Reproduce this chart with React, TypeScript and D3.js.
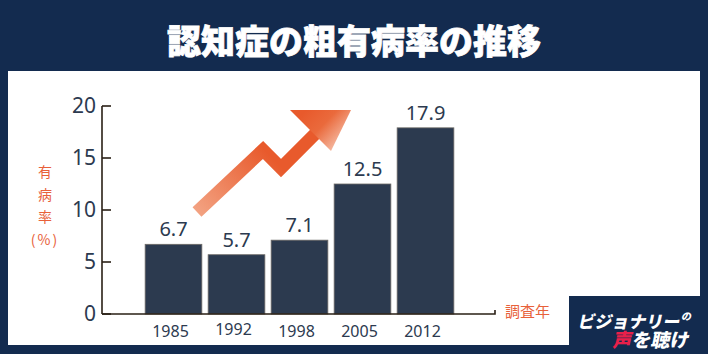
import { useMemo } from 'react';
import * as d3 from 'd3';

const W = 708;
const H = 354;

const years = ['1985', '1992', '1998', '2005', '2012'];
const rates = [6.7, 5.7, 7.1, 12.5, 17.9];
const yTicks = [0, 5, 10, 15, 20];
const yTitleChars = ['有', '病', '率', '(%)'];

const NAVY = '#132b4f';
const BAR = '#2c3a4f';
const TEXT = '#2c3a4f';
const ORANGE = '#e8613a';
const AXIS = '#2a2016';
const JP = '"Noto Sans CJK JP", "Noto Sans", sans-serif';
const NUM = '"Noto Sans", "Liberation Sans", sans-serif';

const PLOT = { left: 102, right: 495, top: 106, bottom: 314 };

export default function App() {
  const x = useMemo(
    () => d3.scaleBand<string>().domain(years).range([142, 457]).paddingInner(0.1).paddingOuter(0.05),
    []
  );
  const y = useMemo(() => d3.scaleLinear().domain([0, 20]).range([PLOT.bottom, PLOT.top]), []);

  // decorative rising arrow
  const shaft = d3.line()([
    [197, 212],
    [263, 150],
    [281, 168],
    [318, 131],
  ]) as string;
  const head = d3.line()([
    [290, 110],
    [351, 110],
    [331, 151],
  ]) + 'Z';

  return (
    <svg width={W} height={H} style={{ position: 'fixed', left: 0, top: 0, display: 'block' }}>
      <defs>
        <linearGradient id="shaftGrad" gradientUnits="userSpaceOnUse" x1={195} y1={215} x2={265} y2={150}>
          <stop offset="0" stopColor="#f3a585" />
          <stop offset="1" stopColor="#e85a2c" />
        </linearGradient>
        <linearGradient id="headGrad" gradientUnits="userSpaceOnUse" x1={305} y1={112} x2={345} y2={150}>
          <stop offset="0" stopColor="#e85a2c" />
          <stop offset="0.4" stopColor="#ea6a3c" />
          <stop offset="1" stopColor="#f9d3c3" />
        </linearGradient>
      </defs>

      <rect x={0} y={0} width={W} height={H} fill={NAVY} />
      <text
        x={W / 2}
        y={54}
        textAnchor="middle"
        fill="#fff"
        stroke="#fff"
        strokeWidth={0.8}
        fontFamily={JP}
        fontWeight={900}
        fontSize={34}
      >
        認知症の粗有病率の推移
      </text>

      <rect x={8} y={71} width={692} height={274} fill="#fff" />

      {/* arrow */}
      <path d={shaft} fill="none" stroke="url(#shaftGrad)" strokeWidth={13} strokeLinejoin="miter" />
      <path d={head} fill="url(#headGrad)" />

      {/* bars */}
      {rates.map((v, i) => (
        <g key={years[i]}>
          <rect
            x={x(years[i])}
            y={y(v)}
            width={x.bandwidth()}
            height={y(0) - y(v)}
            fill={BAR}
            stroke="#6d6a66"
            strokeWidth={0.8}
          />
          <text
            x={(x(years[i]) as number) + x.bandwidth() / 2}
            y={y(v) - 8}
            textAnchor="middle"
            fill={TEXT}
            fontFamily={NUM}
            fontSize={20}
          >
            {v.toFixed(1)}
          </text>
          <text
            x={(x(years[i]) as number) + x.bandwidth() / 2 - 3}
            y={i === 1 ? 335 : 337}
            textAnchor="middle"
            fill={TEXT}
            fontFamily={NUM}
            fontSize={16}
          >
            {years[i]}
          </text>
        </g>
      ))}

      {/* y axis */}
      <line x1={PLOT.left} x2={PLOT.left} y1={PLOT.top} y2={PLOT.bottom} stroke={AXIS} strokeWidth={1.6} />
      {yTicks.map((t) => (
        <g key={t}>
          <line x1={PLOT.left} x2={PLOT.left + 9} y1={y(t)} y2={y(t)} stroke={AXIS} strokeWidth={1.6} />
          <text
            x={96}
            y={y(t) + 7}
            textAnchor="end"
            fill={TEXT}
            fontFamily={NUM}
            fontSize={21}
          >
            {t}
          </text>
        </g>
      ))}

      {/* x axis */}
      <path
        d={`M${PLOT.left},${PLOT.bottom}H${PLOT.right}V${PLOT.bottom - 4}`}
        fill="none"
        stroke={AXIS}
        strokeWidth={1.6}
      />

      {/* axis titles */}
      {yTitleChars.map((c, i) => (
        <text
          key={c}
          x={45}
          y={177 + i * 22.5}
          textAnchor="middle"
          fill={ORANGE}
          fontFamily={JP}
          fontSize={14}
          letterSpacing={i === 3 ? 2 : 0}
        >
          {c}
        </text>
      ))}
      <text x={505} y={317} fill={ORANGE} fontFamily={JP} fontSize={15}>
        調査年
      </text>

      {/* logo */}
      <rect x={569} y={296} width={139} height={58} fill={NAVY} />
      <g fontFamily={JP} fontWeight={900} fill="#fff">
        <text x={578} y={328} fontSize={17} transform="skewX(-12) translate(69,0)">
          ビジョナリー
          <tspan fontSize={10} dy={-8}>の</tspan>
        </text>
        <text x={613} y={347} fontSize={19} transform="skewX(-12) translate(73,0)">
          <tspan fill="#e8204a">声</tspan>を聴け
        </text>
      </g>
    </svg>
  );
}
